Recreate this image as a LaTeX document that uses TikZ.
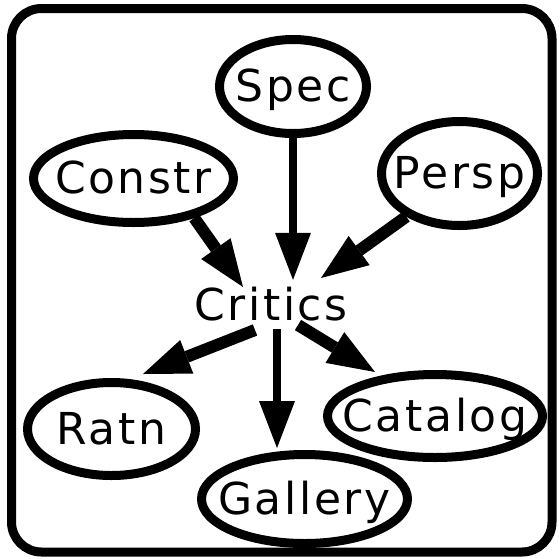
\documentclass[tikz,border=0pt]{standalone}
\usepackage{fontspec}
\setmainfont[LetterSpace=6]{DejaVu Sans}
\usetikzlibrary{shapes.geometric,arrows.meta}
\newcommand\zw[1]{\makebox[0pt]{#1}}
\tikzset{
  lbl/.style={font=\fontsize{44}{50}\selectfont, inner sep=0pt, text height=40pt, text depth=10pt},
  ell/.style={lbl, ellipse, draw, line width=9pt},
  tip/.style={-{Triangle[length=47pt,width=36pt,line width=0pt]}},
  arrthin/.style={tip, line width=8pt},
  arrthick/.style={tip, line width=12pt},
  frame/.style={line width=9pt, rounded corners=30pt}
}
\begin{document}
\begin{tikzpicture}[x=1pt,y=-1pt]
\useasboundingbox (0,0) rectangle (559,558);
\draw[frame] (11.5,8.5) rectangle (552,552);

\node[ell, minimum width=147pt, minimum height=94pt] (spec) at (293,86.5) {\zw{Spec}};
\node[ell, minimum width=200pt, minimum height=88pt] (constr) at (133.5,178.5) {\zw{Constr}};
\node[ell, minimum width=156pt, minimum height=104pt] (persp) at (459.5,173.5) {\zw{Persp}};
\node[lbl, minimum width=160pt, minimum height=50pt] (critics) at (271,305) {Critics};
\node[ell, minimum width=168pt, minimum height=93pt] (ratn) at (111.5,429) {\zw{Ratn}};
\node[ell, minimum width=206pt, minimum height=89pt] (gallery) at (304.5,499) {\zw{Gallery}};
\node[ell, minimum width=215pt, minimum height=83pt] (catalog) at (435,416) {\zw{Catalog}};

\draw[arrthin] (spec.south) -- (spec.south |- critics.north);
\draw[arrthick] (constr.-33.4) -- ([shift={(-28,-18)}]critics.center);
\draw[arrthick] (persp.-141.7) -- ([shift={(50,-27)}]critics.center);
\draw[arrthick] ([shift={(-16,25)}]critics.center) -- ([shift={(31.5,-55)}]ratn.center);
\draw[arrthin] ([shift={(6,24)}]critics.center) -- ([shift={(-27.5,-51)}]gallery.center);
\draw[arrthick] ([shift={(27,20)}]critics.center) -- ([shift={(-60,-44)}]catalog.center);
\end{tikzpicture}
\end{document}
